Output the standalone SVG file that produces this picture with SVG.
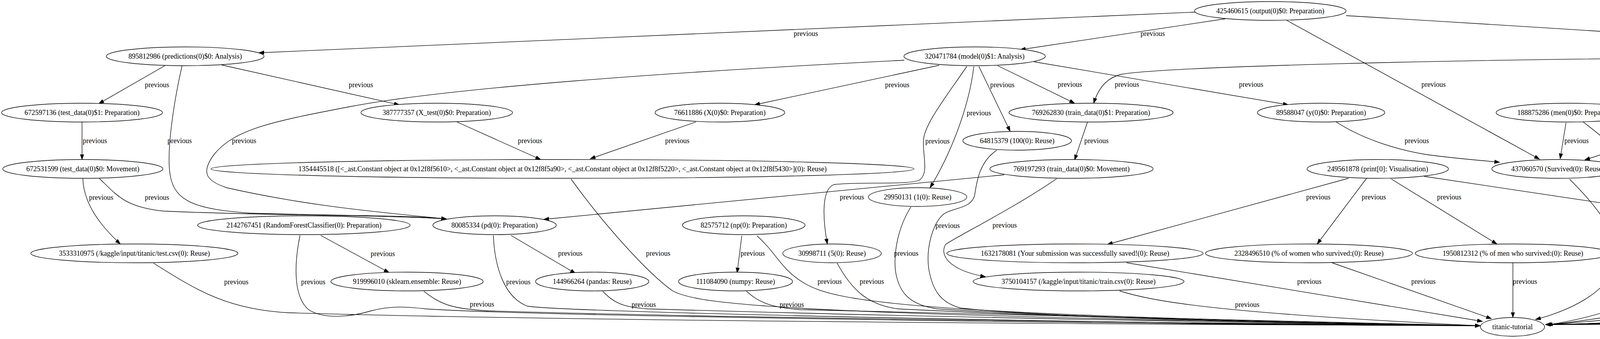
<svg xmlns="http://www.w3.org/2000/svg" width="6621" height="867" viewBox="0 0 6621 867" font-family="Liberation Serif, Times New Roman, serif">
<style>
.n ellipse{fill:#fff;stroke:#000;stroke-width:1.33}
text{font-family:"Liberation Serif","Times New Roman",Times,serif;font-size:18.67px;text-anchor:middle;fill:#000}
.e path{fill:none;stroke:#000;stroke-width:1.33;marker-end:url(#a)}
</style>
<defs>
<marker id="a" markerUnits="userSpaceOnUse" markerWidth="14" markerHeight="10" refX="13.3" refY="4.67" orient="auto"><path d="M0,0 L13.3,4.67 L0,9.33 Z" fill="#000" stroke="#000" stroke-width="1"/></marker>
</defs>
<rect width="6621" height="867" fill="#fff"/>
<g id="edges">
<g class="e"><path d="M3059,31 L663,135"/><text x="2063" y="92" textLength="62.3" lengthAdjust="spacingAndGlyphs">previous</text></g>
<g class="e"><path d="M3137,48 L2612,127"/><text x="2951" y="92" textLength="62.3" lengthAdjust="spacingAndGlyphs">previous</text></g>
<g class="e"><path d="M3294,52 L3941,407"/><text x="3670" y="222" textLength="62.3" lengthAdjust="spacingAndGlyphs">previous</text></g>
<g class="e"><path d="M3446,40 C4200,85 5200,150 5788,203"/><text x="4508" y="92" textLength="62.3" lengthAdjust="spacingAndGlyphs">previous</text></g>
<g class="e"><path d="M422,168 L253,265"/><text x="402" y="223" textLength="62.3" lengthAdjust="spacingAndGlyphs">previous</text></g>
<g class="e"><path d="M567,166 L1022,268"/><text x="924" y="223" textLength="62.3" lengthAdjust="spacingAndGlyphs">previous</text></g>
<g class="e"><path d="M466,168 C445,260 425,390 436,450 C448,515 500,535 640,545 C850,552 1060,550 1143,560"/><text x="460" y="366" textLength="62.3" lengthAdjust="spacingAndGlyphs">previous</text></g>
<g class="e"><path d="M210,312 L210,408"/><text x="243" y="366" textLength="62.3" lengthAdjust="spacingAndGlyphs">previous</text></g>
<g class="e"><path d="M212,456 C214,520 255,575 308,624"/><text x="259" y="511" textLength="62.3" lengthAdjust="spacingAndGlyphs">previous</text></g>
<g class="e"><path d="M254,456 C300,500 320,530 420,540 C700,552 1000,550 1143,560"/><text x="402" y="511" textLength="62.3" lengthAdjust="spacingAndGlyphs">previous</text></g>
<g class="e"><path d="M1170,312 L1384,408"/><text x="1357" y="366" textLength="62.3" lengthAdjust="spacingAndGlyphs">previous</text></g>
<g class="e"><path d="M2315,154 C1700,185 1150,225 900,272 C700,310 600,330 548,395 C515,440 525,462 580,480 C800,530 1000,545 1143,560"/><text x="625" y="366" textLength="62.3" lengthAdjust="spacingAndGlyphs">previous</text></g>
<g class="e"><path d="M2404,167 L1932,268"/><text x="2297" y="223" textLength="62.3" lengthAdjust="spacingAndGlyphs">previous</text></g>
<g class="e"><path d="M2475,170 C2420,250 2365,320 2364,360 C2362,400 2378,440 2355,460 C2330,474 2200,464 2135,472 C2100,485 2108,570 2118,624"/><text x="2400" y="367" textLength="62.3" lengthAdjust="spacingAndGlyphs">previous</text></g>
<g class="e"><path d="M2493,170 C2480,280 2430,400 2381,480"/><text x="2506" y="295" textLength="62.3" lengthAdjust="spacingAndGlyphs">previous</text></g>
<g class="e"><path d="M2506,170 L2586,336"/><text x="2566" y="223" textLength="62.3" lengthAdjust="spacingAndGlyphs">previous</text></g>
<g class="e"><path d="M2554,168 L2751,264"/><text x="2739" y="222" textLength="62.3" lengthAdjust="spacingAndGlyphs">previous</text></g>
<g class="e"><path d="M2647,158 L3298,268"/><text x="3203" y="222" textLength="62.3" lengthAdjust="spacingAndGlyphs">previous</text></g>
<g class="e"><path d="M4476,147 C3700,152 3000,170 2870,190 C2830,200 2810,230 2800,264"/><text x="2885" y="222" textLength="62.3" lengthAdjust="spacingAndGlyphs">previous</text></g>
<g class="e"><path d="M4563,165 L4113,266"/><text x="4464" y="222" textLength="62.3" lengthAdjust="spacingAndGlyphs">previous</text></g>
<g class="e"><path d="M4619,169 L4460,264"/><text x="4607" y="222" textLength="62.3" lengthAdjust="spacingAndGlyphs">previous</text></g>
<g class="e"><path d="M4661,169 C4668,300 4670,420 4660,480 C4652,525 4620,545 4580,558"/><text x="4701" y="366" textLength="62.3" lengthAdjust="spacingAndGlyphs">previous</text></g>
<g class="e"><path d="M4668,169 L4833,553"/><text x="4790" y="366" textLength="62.3" lengthAdjust="spacingAndGlyphs">previous</text></g>
<g class="e"><path d="M4714,169 L4949,265"/><text x="4919" y="222" textLength="62.3" lengthAdjust="spacingAndGlyphs">previous</text></g>
<g class="e"><path d="M4774,163 L5363,266"/><text x="5252" y="222" textLength="62.3" lengthAdjust="spacingAndGlyphs">previous</text></g>
<g class="e"><path d="M2784,312 L2751,409"/><text x="2807" y="366" textLength="62.3" lengthAdjust="spacingAndGlyphs">previous</text></g>
<g class="e"><path d="M3421,312 C3480,350 3560,380 3650,395 C3720,405 3790,410 3839,415"/><text x="3627" y="366" textLength="62.3" lengthAdjust="spacingAndGlyphs">previous</text></g>
<g class="e"><path d="M4009,314 L3994,406"/><text x="4036" y="366" textLength="62.3" lengthAdjust="spacingAndGlyphs">previous</text></g>
<g class="e"><path d="M4053,312 C4130,370 4185,420 4205,500 C4220,570 4230,610 4299,628"/><text x="4227" y="438" textLength="62.3" lengthAdjust="spacingAndGlyphs">previous</text></g>
<g class="e"><path d="M4355,312 L4057,409"/><text x="4301" y="366" textLength="62.3" lengthAdjust="spacingAndGlyphs">previous</text></g>
<g class="e"><path d="M4430,314 L4471,480"/><text x="4478" y="366" textLength="62.3" lengthAdjust="spacingAndGlyphs">previous</text></g>
<g class="e"><path d="M5023,314 L5061,409"/><text x="5083" y="366" textLength="62.3" lengthAdjust="spacingAndGlyphs">previous</text></g>
<g class="e"><path d="M5079,312 C5130,345 5140,380 5160,395 C5200,410 5260,410 5307,415"/><text x="5178" y="366" textLength="62.3" lengthAdjust="spacingAndGlyphs">previous</text></g>
<g class="e"><path d="M5408,314 L5142,410"/><text x="5371" y="366" textLength="62.3" lengthAdjust="spacingAndGlyphs">previous</text></g>
<g class="e"><path d="M5458,314 L5429,408"/><text x="5482" y="366" textLength="62.3" lengthAdjust="spacingAndGlyphs">previous</text></g>
<g class="e"><path d="M2552,384 C2505,415 2500,470 2495,500 C2485,535 2440,530 2415,548 C2385,575 2370,640 2378,690 C2388,745 2410,775 2460,788 C2700,815 3500,830 3789,833"/><text x="2426" y="583" textLength="62.3" lengthAdjust="spacingAndGlyphs">previous</text></g>
<g class="e"><path d="M2571,447 L1392,561"/><text x="2181" y="510" textLength="62.3" lengthAdjust="spacingAndGlyphs">previous</text></g>
<g class="e"><path d="M2705,457 C2600,530 2440,610 2421,625 C2405,650 2425,690 2523,708"/><text x="2572" y="582" textLength="62.3" lengthAdjust="spacingAndGlyphs">previous</text></g>
<g class="e"><path d="M3452,456 L2835,625"/><text x="3375" y="510" textLength="62.3" lengthAdjust="spacingAndGlyphs">previous</text></g>
<g class="e"><path d="M3500,454 L3372,624"/><text x="3517" y="510" textLength="62.3" lengthAdjust="spacingAndGlyphs">previous</text></g>
<g class="e"><path d="M3562,458 L3832,624"/><text x="3710" y="510" textLength="62.3" lengthAdjust="spacingAndGlyphs">previous</text></g>
<g class="e"><path d="M3646,451 L4360,558"/><text x="4170" y="510" textLength="62.3" lengthAdjust="spacingAndGlyphs">previous</text></g>
<g class="e"><path d="M4018,458 C4100,540 4140,600 4137,660 C4130,750 4000,800 3931,817"/><text x="4167" y="654" textLength="62.3" lengthAdjust="spacingAndGlyphs">previous</text></g>
<g class="e"><path d="M5077,458 C5082,520 5082,590 5055,608 C5030,620 4960,612 4935,625 C4905,645 4905,700 4900,725 C4890,755 4860,768 4830,775 C4600,815 4100,828 3957,830"/><text x="4966" y="654" textLength="62.3" lengthAdjust="spacingAndGlyphs">previous</text></g>
<g class="e"><path d="M5427,458 C5445,560 5478,680 5484,730 C5488,752 5470,760 5420,765 C5200,790 4200,828 3957,830"/><text x="5507" y="654" textLength="62.3" lengthAdjust="spacingAndGlyphs">previous</text></g>
<g class="e"><path d="M5633,451 L4594,559"/><text x="5368" y="510" textLength="62.3" lengthAdjust="spacingAndGlyphs">previous</text></g>
<g class="e"><path d="M5752,458 L5702,553"/><text x="5770" y="510" textLength="62.3" lengthAdjust="spacingAndGlyphs">previous</text></g>
<g class="e"><path d="M5802,458 C5860,520 5905,570 5908,624"/><text x="5911" y="510" textLength="62.3" lengthAdjust="spacingAndGlyphs">previous</text></g>
<g class="e"><path d="M2332,529 C2300,580 2288,640 2292,690 C2300,750 2330,780 2400,790 C2800,815 3500,830 3789,833"/><text x="2320" y="654" textLength="62.3" lengthAdjust="spacingAndGlyphs">previous</text></g>
<g class="e"><path d="M4372,523 C4300,545 4285,565 4292,590 C4300,615 4340,616 4420,613 C4470,612 4520,610 4530,640 C4538,665 4530,685 4490,690 C4450,695 4425,710 4410,727 C4390,752 4350,768 4250,787 C4100,815 4000,828 3957,830"/><text x="4565" y="654" textLength="62.3" lengthAdjust="spacingAndGlyphs">previous</text></g>
<g class="e"><path d="M821,602 L996,697"/><text x="980" y="655" textLength="62.3" lengthAdjust="spacingAndGlyphs">previous</text></g>
<g class="e"><path d="M768,602 C752,680 752,760 790,792 C830,818 900,810 950,795 C1000,782 1040,784 1090,790 C1400,810 3000,830 3789,833"/><text x="802" y="727" textLength="62.3" lengthAdjust="spacingAndGlyphs">previous</text></g>
<g class="e"><path d="M1308,602 L1473,699"/><text x="1460" y="654" textLength="62.3" lengthAdjust="spacingAndGlyphs">previous</text></g>
<g class="e"><path d="M1263,602 C1266,680 1290,760 1350,783 C1450,800 3000,830 3789,833"/><text x="1327" y="727" textLength="62.3" lengthAdjust="spacingAndGlyphs">previous</text></g>
<g class="e"><path d="M1899,603 L1887,698"/><text x="1927" y="654" textLength="62.3" lengthAdjust="spacingAndGlyphs">previous</text></g>
<g class="e"><path d="M1938,603 C1990,650 2000,690 2060,725 C2140,770 2300,805 3789,833"/><text x="2124" y="726" textLength="62.3" lengthAdjust="spacingAndGlyphs">previous</text></g>
<g class="e"><path d="M4578,596 C4612,615 4625,660 4601,697"/><text x="4658" y="654" textLength="62.3" lengthAdjust="spacingAndGlyphs">previous</text></g>
<g class="e"><path d="M4590,595 C4640,608 4690,618 4697,635 L4697,740 C4695,765 4650,775 4580,785 C4400,815 4100,828 3957,830"/><text x="4731" y="726" textLength="62.3" lengthAdjust="spacingAndGlyphs">previous</text></g>
<g class="e"><path d="M4840,602 C4830,680 4800,745 4700,782 C4500,815 4100,828 3957,830"/><text x="4838" y="726" textLength="62.3" lengthAdjust="spacingAndGlyphs">previous</text></g>
<g class="e"><path d="M4919,599 L5217,699"/><text x="5178" y="654" textLength="62.3" lengthAdjust="spacingAndGlyphs">previous</text></g>
<g class="e"><path d="M5265,602 L5274,698"/><text x="5304" y="654" textLength="62.3" lengthAdjust="spacingAndGlyphs">previous</text></g>
<g class="e"><path d="M5229,602 C5180,640 5130,665 5080,677 C5030,688 5000,700 4990,720 C4975,760 4975,785 4940,795 C4700,820 4100,828 3957,830"/><text x="5044" y="726" textLength="62.3" lengthAdjust="spacingAndGlyphs">previous</text></g>
<g class="e"><path d="M5636,601 C5590,627 5570,655 5545,675 C5515,695 5470,700 5436,707"/><text x="5627" y="654" textLength="62.3" lengthAdjust="spacingAndGlyphs">previous</text></g>
<g class="e"><path d="M5682,602 C5670,680 5630,740 5570,772 C5530,790 5000,815 3957,830"/><text x="5674" y="726" textLength="62.3" lengthAdjust="spacingAndGlyphs">previous</text></g>
<g class="e"><path d="M6147,603 L6126,698"/><text x="6172" y="654" textLength="62.3" lengthAdjust="spacingAndGlyphs">previous</text></g>
<g class="e"><path d="M393,673 C500,740 580,792 741,800 C1500,822 3000,830 3789,833"/><text x="605" y="727" textLength="62.3" lengthAdjust="spacingAndGlyphs">previous</text></g>
<g class="e"><path d="M2143,673 C2180,740 2220,780 2300,790 C2800,815 3500,830 3789,833"/><text x="2232" y="726" textLength="62.3" lengthAdjust="spacingAndGlyphs">previous</text></g>
<g class="e"><path d="M2884,672 L3795,822"/><text x="3352" y="726" textLength="62.3" lengthAdjust="spacingAndGlyphs">previous</text></g>
<g class="e"><path d="M3410,672 L3818,815"/><text x="3644" y="726" textLength="62.3" lengthAdjust="spacingAndGlyphs">previous</text></g>
<g class="e"><path d="M3873,672 L3873,812"/><text x="3904" y="726" textLength="62.3" lengthAdjust="spacingAndGlyphs">previous</text></g>
<g class="e"><path d="M4347,673 C4250,760 4100,810 3961,831"/><text x="4351" y="726" textLength="62.3" lengthAdjust="spacingAndGlyphs">previous</text></g>
<g class="e"><path d="M5861,673 C5800,720 5760,782 5689,791 C5000,815 4200,830 3957,830"/><text x="5848" y="726" textLength="62.3" lengthAdjust="spacingAndGlyphs">previous</text></g>
<g class="e"><path d="M1085,745 C1130,780 1160,790 1250,795 C2000,818 3500,830 3789,833"/><text x="1234" y="784" textLength="62.3" lengthAdjust="spacingAndGlyphs">previous</text></g>
<g class="e"><path d="M1543,745 C1570,772 1590,786 1660,790 C2500,815 3500,830 3789,833"/><text x="1648" y="785" textLength="62.3" lengthAdjust="spacingAndGlyphs">previous</text></g>
<g class="e"><path d="M1911,745 C1940,770 1965,786 2050,792 C2800,815 3500,830 3789,833"/><text x="2027" y="785" textLength="62.3" lengthAdjust="spacingAndGlyphs">previous</text></g>
<g class="e"><path d="M2866,744 C2950,770 3100,800 3789,833"/><text x="3193" y="785" textLength="62.3" lengthAdjust="spacingAndGlyphs">previous</text></g>
<g class="e"><path d="M4527,744 C4490,772 4450,790 4300,800 C4100,820 4000,828 3957,830"/><text x="4509" y="785" textLength="62.3" lengthAdjust="spacingAndGlyphs">previous</text></g>
<g class="e"><path d="M5212,743 C5150,770 5050,790 4950,795 C4500,822 4100,828 3957,830"/><text x="5144" y="785" textLength="62.3" lengthAdjust="spacingAndGlyphs">previous</text></g>
<g class="e"><path d="M6040,744 C5950,772 5850,790 5700,800 C5000,822 4200,830 3957,830"/><text x="5967" y="785" textLength="62.3" lengthAdjust="spacingAndGlyphs">previous</text></g>
<g class="e"><path d="M6068,233 C6250,270 6385,320 6387,370 L6388,723 C6390,750 6430,768 6520,772 C6600,775 6640,765 6600,762 C6550,759 6480,760 6440,763 C6000,789 4500,822 3957,830"/><text x="6416" y="510" textLength="62.3" lengthAdjust="spacingAndGlyphs">previous</text></g>
<g class="e"><path d="M1462,458 C1550,580 1660,700 1722,744 C1790,780 2000,805 3789,833"/><text x="1685" y="654" textLength="62.3" lengthAdjust="spacingAndGlyphs">previous</text></g>
<g class="e"><path d="M1781,312 L1511,406"/><text x="1734" y="366" textLength="62.3" lengthAdjust="spacingAndGlyphs">previous</text></g>
</g>
<g id="n425460615" class="n"><ellipse cx="3252" cy="28" rx="194" ry="24"/><text x="3252" y="34" textLength="276.5" lengthAdjust="spacingAndGlyphs">425460615 (output(0)$0: Preparation)</text></g>
<g id="n895812986" class="n"><ellipse cx="474" cy="144" rx="202" ry="24"/><text x="474" y="150" textLength="290.6" lengthAdjust="spacingAndGlyphs">895812986 (predictions(0)$0: Analysis)</text></g>
<g id="n320471784" class="n"><ellipse cx="2495" cy="144" rx="181" ry="24"/><text x="2495" y="150" textLength="255.4" lengthAdjust="spacingAndGlyphs">320471784 (model(0)$1: Analysis)</text></g>
<g id="n249692951" class="n"><ellipse cx="4658" cy="144" rx="182" ry="24"/><text x="4658" y="150" textLength="258.4" lengthAdjust="spacingAndGlyphs">249692951 (print[1]: Visualisation)</text></g>
<g id="n673514711" class="n"><ellipse cx="5934" cy="216" rx="184" ry="24"/><text x="5934" y="222" textLength="260.4" lengthAdjust="spacingAndGlyphs">673514711 (PassengerId(0): Reuse)</text></g>
<g id="n672597136" class="n"><ellipse cx="210" cy="288" rx="206" ry="24"/><text x="210" y="294" textLength="294.6" lengthAdjust="spacingAndGlyphs">672597136 (test_data(0)$1: Preparation)</text></g>
<g id="n387777357" class="n"><ellipse cx="1118" cy="288" rx="194" ry="24"/><text x="1118" y="294" textLength="277.5" lengthAdjust="spacingAndGlyphs">387777357 (X_test(0)$0: Preparation)</text></g>
<g id="n76611886" class="n"><ellipse cx="1843" cy="288" rx="166" ry="24"/><text x="1843" y="294" textLength="234.3" lengthAdjust="spacingAndGlyphs">76611886 (X(0)$0: Preparation)</text></g>
<g id="n769262830" class="n"><ellipse cx="2793" cy="288" rx="210" ry="24"/><text x="2793" y="294" textLength="302.6" lengthAdjust="spacingAndGlyphs">769262830 (train_data(0)$1: Preparation)</text></g>
<g id="n89588047" class="n"><ellipse cx="3382" cy="288" rx="163" ry="24"/><text x="3382" y="294" textLength="230.2" lengthAdjust="spacingAndGlyphs">89588047 (y(0)$0: Preparation)</text></g>
<g id="n188875286" class="n"><ellipse cx="4015" cy="288" rx="185" ry="24"/><text x="4015" y="294" textLength="261.4" lengthAdjust="spacingAndGlyphs">188875286 (men(0)$0: Preparation)</text></g>
<g id="n332464892" class="n"><ellipse cx="4422" cy="288" rx="199" ry="24"/><text x="4422" y="294" textLength="283.5" lengthAdjust="spacingAndGlyphs">332464892 (women(0)$0: Preparation)</text></g>
<g id="n780600583" class="n"><ellipse cx="5012" cy="288" rx="222" ry="24"/><text x="5012" y="294" textLength="319.7" lengthAdjust="spacingAndGlyphs">780600583 (rate_women(0)$0: Preparation)</text></g>
<g id="n568460321" class="n"><ellipse cx="5466" cy="288" rx="208" ry="24"/><text x="5466" y="294" textLength="297.6" lengthAdjust="spacingAndGlyphs">568460321 (rate_men(0)$0: Preparation)</text></g>
<g id="n64815379" class="n"><ellipse cx="2604" cy="360" rx="139" ry="24"/><text x="2604" y="366" textLength="191" lengthAdjust="spacingAndGlyphs">64815379 (100(0): Reuse)</text></g>
<g id="n672531599" class="n"><ellipse cx="212" cy="432" rx="205" ry="24"/><text x="212" y="438" textLength="289.6" lengthAdjust="spacingAndGlyphs">672531599 (test_data(0)$0: Movement)</text></g>
<g id="n1354445518" class="n"><ellipse cx="1440" cy="432" rx="900" ry="24"/><text x="1440" y="438" textLength="1352.6" lengthAdjust="spacingAndGlyphs">1354445518 ([&lt;_ast.Constant object at 0x12f8f5610&gt;, &lt;_ast.Constant object at 0x12f8f5a90&gt;, &lt;_ast.Constant object at 0x12f8f5220&gt;, &lt;_ast.Constant object at 0x12f8f5430&gt;](0): Reuse)</text></g>
<g id="n769197293" class="n"><ellipse cx="2743" cy="432" rx="209" ry="24"/><text x="2743" y="438" textLength="297.6" lengthAdjust="spacingAndGlyphs">769197293 (train_data(0)$0: Movement)</text></g>
<g id="n249561878" class="n"><ellipse cx="3527" cy="432" rx="181" ry="24"/><text x="3527" y="438" textLength="258.4" lengthAdjust="spacingAndGlyphs">249561878 (print[0]: Visualisation)</text></g>
<g id="n437060570" class="n"><ellipse cx="3988" cy="432" rx="169" ry="24"/><text x="3988" y="438" textLength="238.3" lengthAdjust="spacingAndGlyphs">437060570 (Survived(0): Reuse)</text></g>
<g id="n129368535" class="n"><ellipse cx="5073" cy="432" rx="147" ry="24"/><text x="5073" y="438" textLength="203.1" lengthAdjust="spacingAndGlyphs">129368535 (sum(0): Reuse)</text></g>
<g id="n121635265" class="n"><ellipse cx="5418" cy="432" rx="141" ry="24"/><text x="5418" y="438" textLength="195" lengthAdjust="spacingAndGlyphs">121635265 (len(0): Reuse)</text></g>
<g id="n249824024" class="n"><ellipse cx="5765" cy="432" rx="182" ry="24"/><text x="5765" y="438" textLength="258.4" lengthAdjust="spacingAndGlyphs">249824024 (print[2]: Visualisation)</text></g>
<g id="n29950131" class="n"><ellipse cx="2349" cy="504" rx="126" ry="24"/><text x="2349" y="510" textLength="172.9" lengthAdjust="spacingAndGlyphs">29950131 (1(0): Reuse)</text></g>
<g id="n280560364" class="n"><ellipse cx="4478" cy="504" rx="160" ry="24"/><text x="4478" y="510" textLength="222.2" lengthAdjust="spacingAndGlyphs">280560364 (female(0): Reuse)</text></g>
<g id="n2142767451" class="n"><ellipse cx="778" cy="576" rx="272" ry="24"/><text x="778" y="582" textLength="397.2" lengthAdjust="spacingAndGlyphs">2142767451 (RandomForestClassifier(0): Preparation)</text></g>
<g id="n80085334" class="n"><ellipse cx="1266" cy="576" rx="158" ry="24"/><text x="1266" y="582" textLength="221.2" lengthAdjust="spacingAndGlyphs">80085334 (pd(0): Preparation)</text></g>
<g id="n82575712" class="n"><ellipse cx="1904" cy="576" rx="157" ry="24"/><text x="1904" y="582" textLength="221.2" lengthAdjust="spacingAndGlyphs">82575712 (np(0): Preparation)</text></g>
<g id="n83689828" class="n"><ellipse cx="4472" cy="577" rx="157" ry="24"/><text x="4472" y="583" textLength="219.2" lengthAdjust="spacingAndGlyphs">83689828 (os(0): Preparation)</text></g>
<g id="n355533666" class="n"><ellipse cx="4843" cy="576" rx="191" ry="24"/><text x="4843" y="582" textLength="271.4" lengthAdjust="spacingAndGlyphs">355533666 (dirname(0): Preparation)</text></g>
<g id="n42008801" class="n"><ellipse cx="5263" cy="576" rx="153" ry="24"/><text x="5263" y="582" textLength="212.1" lengthAdjust="spacingAndGlyphs">42008801 (_(0): Preparation)</text></g>
<g id="n512164918" class="n"><ellipse cx="5687" cy="576" rx="198" ry="24"/><text x="5687" y="582" textLength="282.5" lengthAdjust="spacingAndGlyphs">512164918 (filenames(0): Preparation)</text></g>
<g id="n425526152" class="n"><ellipse cx="6153" cy="576" rx="194" ry="24"/><text x="6153" y="582" textLength="276.5" lengthAdjust="spacingAndGlyphs">425526152 (output(0)$1: Preparation)</text></g>
<g id="n3533310975" class="n"><ellipse cx="344" cy="648" rx="265" ry="24"/><text x="344" y="654" textLength="386.6" lengthAdjust="spacingAndGlyphs">3533310975 (/kaggle/input/titanic/test.csv(0): Reuse)</text></g>
<g id="n30998711" class="n"><ellipse cx="2130" cy="648" rx="126" ry="24"/><text x="2130" y="654" textLength="172.9" lengthAdjust="spacingAndGlyphs">30998711 (5(0): Reuse)</text></g>
<g id="n1632178081" class="n"><ellipse cx="2752" cy="648" rx="328" ry="24"/><text x="2752" y="654" textLength="482.6" lengthAdjust="spacingAndGlyphs">1632178081 (Your submission was successfully saved!(0): Reuse)</text></g>
<g id="n2328496510" class="n"><ellipse cx="3351" cy="648" rx="265" ry="24"/><text x="3351" y="654" textLength="382.1" lengthAdjust="spacingAndGlyphs">2328496510 (% of women who survived:(0): Reuse)</text></g>
<g id="n1950812312" class="n"><ellipse cx="3873" cy="648" rx="250" ry="24"/><text x="3873" y="654" textLength="359.9" lengthAdjust="spacingAndGlyphs">1950812312 (% of men who survived:(0): Reuse)</text></g>
<g id="n167313953" class="n"><ellipse cx="4373" cy="648" rx="150" ry="24"/><text x="4373" y="654" textLength="208.1" lengthAdjust="spacingAndGlyphs">167313953 (male(0): Reuse)</text></g>
<g id="n427361219" class="n"><ellipse cx="5907" cy="648" rx="193" ry="24"/><text x="5907" y="654" textLength="275.5" lengthAdjust="spacingAndGlyphs">427361219 (filename(0): Preparation)</text></g>
<g id="n919996010" class="n"><ellipse cx="1042" cy="720" rx="195" ry="24"/><text x="1042" y="726" textLength="277" lengthAdjust="spacingAndGlyphs">919996010 (sklearn.ensemble: Reuse)</text></g>
<g id="n144966264" class="n"><ellipse cx="1516" cy="720" rx="145" ry="24"/><text x="1516" y="726" textLength="202.1" lengthAdjust="spacingAndGlyphs">144966264 (pandas: Reuse)</text></g>
<g id="n111084090" class="n"><ellipse cx="1883" cy="720" rx="146" ry="24"/><text x="1883" y="726" textLength="202.1" lengthAdjust="spacingAndGlyphs">111084090 (numpy: Reuse)</text></g>
<g id="n3750104157" class="n"><ellipse cx="2761" cy="720" rx="270" ry="24"/><text x="2761" y="726" textLength="394.7" lengthAdjust="spacingAndGlyphs">3750104157 (/kaggle/input/titanic/train.csv(0): Reuse)</text></g>
<g id="n22216931" class="n"><ellipse cx="4564" cy="720" rx="118" ry="24"/><text x="4564" y="726" textLength="158.9" lengthAdjust="spacingAndGlyphs">22216931 (os: Reuse)</text></g>
<g id="n820184443" class="n"><ellipse cx="5277" cy="721" rx="189" ry="24"/><text x="5277" y="727" textLength="268.5" lengthAdjust="spacingAndGlyphs">820184443 (/kaggle/input(0): Reuse)</text></g>
<g id="n1454311309" class="n"><ellipse cx="6118" cy="720" rx="227" ry="24"/><text x="6118" y="726" textLength="324.3" lengthAdjust="spacingAndGlyphs">1454311309 (my_submission.csv(0): Reuse)</text></g>
<g id="titanic-tutorial" class="n"><ellipse cx="3872" cy="836" rx="82" ry="24"/><text x="3872" y="842" textLength="103.6" lengthAdjust="spacingAndGlyphs">titanic-tutorial</text></g>
</svg>
